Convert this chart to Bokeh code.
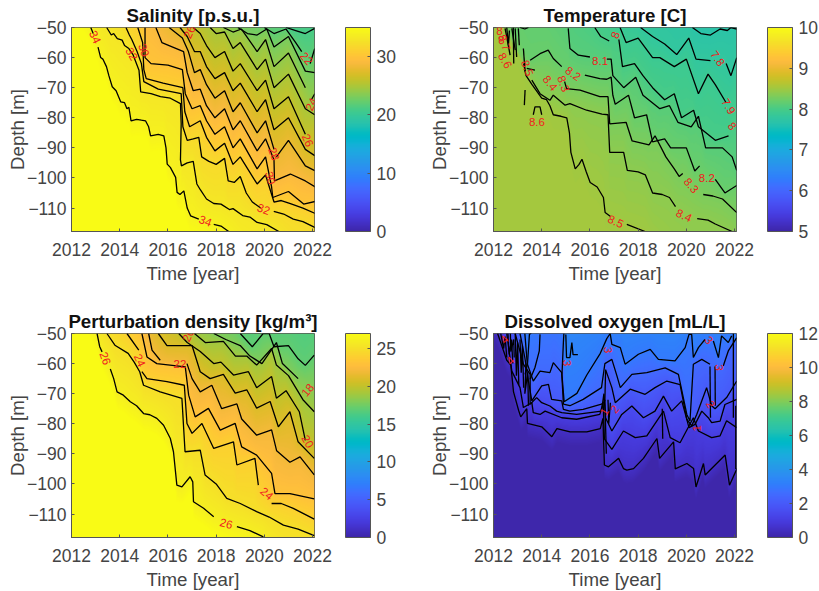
import numpy as np
from bokeh.core.properties import value
from bokeh.embed import file_html
from bokeh.layouts import column, row
from bokeh.models import ColorBar, FixedTicker, LinearColorMapper, Range1d
from bokeh.plotting import figure
from bokeh.resources import INLINE

N = float("nan")
G = (N, N)

X_TICKS = [2012, 2014, 2016, 2018, 2020, 2022]
Y_TICKS = [-110, -100, -90, -80, -70, -60, -50]

PARULA = """0.2422 0.1504 0.6603
0.2504 0.1650 0.7076
0.2578 0.1818 0.7511
0.2647 0.1978 0.7952
0.2706 0.2147 0.8364
0.2751 0.2342 0.8710
0.2783 0.2559 0.8991
0.2803 0.2782 0.9221
0.2813 0.3006 0.9414
0.2810 0.3228 0.9579
0.2795 0.3447 0.9717
0.2760 0.3667 0.9829
0.2699 0.3892 0.9906
0.2602 0.4123 0.9952
0.2440 0.4358 0.9988
0.2206 0.4603 0.9973
0.1963 0.4847 0.9892
0.1834 0.5074 0.9798
0.1786 0.5289 0.9682
0.1764 0.5499 0.9520
0.1687 0.5703 0.9359
0.1540 0.5902 0.9218
0.1460 0.6091 0.9079
0.1380 0.6276 0.8973
0.1248 0.6459 0.8883
0.1113 0.6635 0.8763
0.0952 0.6798 0.8598
0.0689 0.6948 0.8394
0.0297 0.7082 0.8163
0.0036 0.7203 0.7917
0.0067 0.7312 0.7660
0.0433 0.7411 0.7394
0.0964 0.7500 0.7120
0.1408 0.7584 0.6842
0.1717 0.7670 0.6554
0.1938 0.7758 0.6251
0.2161 0.7843 0.5923
0.2470 0.7918 0.5567
0.2906 0.7973 0.5188
0.3406 0.8008 0.4789
0.3909 0.8029 0.4354
0.4456 0.8024 0.3909
0.5044 0.7993 0.3480
0.5616 0.7942 0.3045
0.6174 0.7876 0.2612
0.6720 0.7793 0.2227
0.7242 0.7698 0.1910
0.7738 0.7598 0.1646
0.8203 0.7498 0.1535
0.8634 0.7406 0.1596
0.9035 0.7330 0.1774
0.9393 0.7288 0.2100
0.9728 0.7298 0.2394
0.9956 0.7434 0.2371
0.9970 0.7659 0.2199
0.9952 0.7893 0.2028
0.9892 0.8136 0.1885
0.9786 0.8386 0.1766
0.9676 0.8639 0.1643
0.9610 0.8890 0.1537
0.9597 0.9135 0.1423
0.9628 0.9373 0.1265
0.9691 0.9606 0.1064
0.9769 0.9839 0.0805"""

# ---------- Salinity contours (year, depth), deepest level first
sal_34 = [(2012.8,-50),(2012.9,-52),G,(2013.1,-56.5),(2013.21,-60),(2013.3,-60.5),(2013.45,-63),(2013.55,-66),(2013.69,-69.7),(2013.85,-71),(2014.04,-74.7),(2014.2,-75),(2014.3,-77),(2014.38,-76.5),(2014.47,-81),(2014.7,-80.5),(2014.9,-80.8),(2015.07,-81),(2015.2,-83),(2015.28,-86),(2015.6,-85.5),(2015.83,-86),(2015.92,-90),(2015.97,-95.4),(2016.1,-96.5),(2016.32,-99.8),(2016.38,-104.8),(2016.5,-105.5),(2016.66,-104.3),(2016.8,-110),(2016.94,-112.6),(2017.28,-113.7),G,(2017.9,-115.4),(2018.2,-116),(2018.52,-117.8)]
sal_33 = [(2013.46,-50),(2013.65,-52.5),(2013.75,-52),(2013.9,-53.7),(2014.1,-54.2),(2014.2,-56),(2014.38,-57),(2014.55,-59),(2014.8,-64.2),(2014.87,-71.4),(2015.3,-72),(2015.69,-73),(2016.1,-73.5),(2016.52,-75.3),(2016.55,-82),(2016.52,-94),(2016.56,-96),(2016.8,-95),(2017.05,-94.5),(2017.2,-102),(2017.35,-104),(2017.6,-107),(2017.9,-108.5),(2018.2,-108.7),(2018.55,-110.5),(2018.7,-110.2),(2019.1,-112.5),(2019.4,-113),(2019.7,-114.8),(2020.1,-115.5),(2020.6,-117.8)]
sal_32 = [(2014.26,-50),(2014.4,-52.5),(2014.5,-54),(2014.72,-58),(2014.9,-62),(2015.0,-68),(2015.6,-70.5),(2016.55,-72),(2016.62,-83),(2016.8,-87.5),(2017.05,-87),(2017.28,-86.5),(2017.4,-93),(2017.7,-94.5),(2018.0,-95.5),(2018.35,-93.5),(2018.5,-101),(2018.75,-101.5),(2019.0,-99.5),(2019.25,-105),(2019.5,-108),(2019.85,-110),G,(2020.39,-111.1),(2020.8,-112),(2021.2,-113.7),(2021.6,-114.5),(2022.11,-116.5)]
sal_31 = [(2014.75,-50),(2014.95,-55),(2015.0,-64),(2015.1,-67),(2015.8,-68.5),(2016.62,-70),(2016.7,-78),(2016.9,-83),(2017.34,-81),(2017.6,-86.5),(2017.95,-91),(2018.35,-88.5),(2018.7,-95.5),(2019.0,-93),(2019.7,-102),(2020.05,-99),(2020.4,-108),(2020.7,-107.5),(2021.08,-108.5),(2021.6,-110),(2022.11,-111.8)]
sal_30 = [(2015.05,-50),(2015.05,-60),(2015.3,-62),(2016.0,-62.5),(2016.6,-64),(2016.72,-72),(2017.0,-77),(2017.34,-76),(2017.6,-81),(2017.95,-85.5),(2018.35,-83),(2018.7,-90),(2019.0,-87),(2019.7,-97),(2020.05,-93),(2020.3,-103),(2020.35,-106.5),(2021.0,-104.5),(2021.63,-108.7),(2022.11,-107.8)]
sal_29 = [(2015.5,-50),(2015.75,-55),(2016.2,-56.5),(2016.65,-58),(2016.8,-65),(2017.05,-71),(2017.34,-70.5),(2017.6,-76),(2017.95,-80),(2018.35,-77),(2018.7,-84),(2019.0,-81),(2019.7,-91),(2020.05,-87),(2020.4,-94),(2020.42,-101),(2021.08,-98.7),(2021.7,-101),(2022.11,-103)]
sal_28 = [(2016.05,-50),(2016.6,-53.5),(2016.85,-58),(2017.1,-65),(2017.34,-64),(2017.6,-69),(2017.95,-73.5),(2018.35,-71),(2018.7,-78),(2019.0,-75),(2019.7,-85),(2020.05,-81),(2020.4,-90.5),G,(2020.5,-93),(2021.0,-87.5),(2021.7,-96),(2022.09,-97.6)]
sal_27 = [(2016.5,-50),(2016.8,-53),(2017.1,-58),(2017.34,-58),(2017.6,-63),(2017.95,-67),(2018.35,-65),(2018.7,-71),(2019.0,-68.5),(2019.7,-78),(2020.05,-74),(2020.4,-84),(2021.0,-80),(2021.7,-90.5),(2022.09,-92.6)]
sal_26 = [(2017.05,-50),(2017.34,-52),(2017.6,-56),(2017.95,-60),(2018.35,-58),(2018.7,-64.5),(2019.0,-62),(2019.7,-71),(2020.05,-67.5),(2020.4,-77),(2021.0,-73),(2021.7,-85.5),G,(2022.09,-84)]
sal_25 = [(2017.75,-50),(2018.0,-52),(2018.35,-51.5),(2018.7,-57),(2019.0,-55),(2019.7,-64),(2020.05,-60.5),(2020.4,-70),(2021.0,-65.5),(2021.7,-77),(2022.09,-79)]
sal_24 = [(2018.3,-50),(2018.7,-51.5),(2019.05,-50.5),(2019.7,-58),(2020.05,-54),(2020.4,-63),(2021.0,-58.5),(2021.7,-70),G,(2021.95,-74),(2022.09,-72)]
sal_23 = [(2018.9,-50),(2019.3,-52),(2019.7,-52.5),(2020.1,-50.5),(2020.4,-56.5),(2021.0,-53),(2021.7,-64.5),(2022.09,-65)]
sal_22 = [(2020.0,-50),(2020.4,-52),(2020.9,-50.5),(2021.3,-55),(2021.55,-58),G,(2021.9,-62),(2022.09,-57)]
sal_21 = [(2020.9,-50),(2021.3,-51),(2021.7,-52),(2022.09,-50.3)]
sal_levels = [34, 33, 32, 31, 30, 29, 28, 27, 26, 25, 24, 23, 22, 21]
sal_lines = [sal_34, sal_33, sal_32, sal_31, sal_30, sal_29, sal_28, sal_27, sal_26, sal_25, sal_24, sal_23, sal_22, sal_21]
sal_label_text = ["34", "34", "32", "30", "26", "22", "24", "26", "28", "30", "32"]
sal_label_t = [2012.98, 2017.55, 2014.5, 2015.0, 2016.9, 2021.75, 2021.95, 2021.8, 2020.4, 2020.25, 2019.97]
sal_label_d = [-53.2, -114.3, -58.8, -57.5, -51.5, -60.3, -75.5, -87.5, -92, -100, -110.4]
sal_label_a = [-65, -20, -60, -70, 65, -50, 65, -65, -70, -75, -20]

# ---------- Temperature
tem_85 = [(2013.25,-62),(2013.35,-66),(2013.6,-69),(2014.0,-73.5),(2014.2,-74),(2014.34,-76),(2014.48,-79),(2014.8,-79.5),(2015.04,-80),(2015.15,-85),(2015.21,-91.5),(2015.39,-97),(2015.55,-95.5),(2015.67,-93.8),(2015.85,-98),(2016.01,-101.5),(2016.3,-103),(2016.56,-106.5),(2016.63,-111.5),(2016.84,-112.7),G,(2017.53,-115.4),(2018.29,-117.8)]
tem_84 = [(2013.59,-67.5),(2013.93,-72),(2014.34,-74.2),(2014.48,-72.5),(2014.97,-75.8),(2015.17,-75.3),(2015.86,-77.5),(2016.5,-78.8),(2016.75,-79),(2016.82,-91.5),(2017.4,-91.5),(2017.55,-97.5),(2018.0,-98),(2018.3,-99),(2018.6,-105),(2019.0,-105.5),(2019.3,-106.5),(2019.55,-109.5),G,(2020.45,-113.5),(2020.9,-114),(2021.2,-115.3),(2021.9,-117.8)]
tem_83 = [(2013.38,-63.6),(2013.72,-64.2),G,(2014.95,-68),(2015.03,-70.3),(2015.59,-70.8),(2016.41,-73),(2016.75,-73),(2016.82,-82),(2017.5,-81.5),(2017.75,-87.7),(2018.45,-89),(2018.7,-86),(2019.15,-93),(2019.5,-97),(2019.7,-99.5),(2019.85,-98.5),G,(2020.7,-105.5),(2021.1,-106),(2021.5,-107),(2022.09,-111.5)]
tem_82 = [(2013.52,-60.9),(2013.93,-58.7),(2014.27,-57.5),(2014.48,-60.3),(2014.83,-63),G,(2015.79,-65.8),(2016.41,-67),(2016.7,-67.2),(2016.88,-66.5),(2016.95,-72.5),(2017.05,-75.5),(2017.6,-72.5),(2017.85,-80),(2018.35,-79),(2018.6,-88),(2019.1,-87),(2019.35,-90),(2020.0,-90),(2020.35,-97.7),(2020.55,-96),G,(2021.2,-100.5),(2021.6,-105),(2022.09,-102.5)]
tem_81 = [(2015.1,-50.3),(2015.17,-57),(2015.52,-59.2),(2016.0,-59.8),G,(2016.7,-60.5),(2016.88,-60.5),(2016.95,-66),(2017.4,-70),(2017.9,-66.5),(2018.2,-72.5),(2018.9,-77),(2019.3,-76),(2019.65,-81.5),(2020.2,-83),(2020.5,-79.5),(2020.8,-90),(2021.5,-90),(2021.9,-93),(2022.09,-97.5)]
tem_80 = [(2016.2,-50),(2016.45,-53),(2016.8,-54.5),G,(2017.2,-54),(2017.35,-63),(2017.85,-62),(2018.2,-66),(2018.6,-70),(2019.1,-74),(2019.5,-72),(2019.8,-80),(2020.3,-77.5),(2020.5,-83),(2021.2,-87.5),(2021.75,-86),G,(2022.09,-81)]
tem_79 = [(2017.25,-50),(2017.5,-55),(2018.0,-53.5),(2018.6,-60),(2018.9,-60),(2019.5,-63),(2020.0,-60.5),(2020.5,-72),(2020.9,-65.5),(2021.2,-69),(2021.65,-75),G,(2022.09,-71)]
tem_78 = [(2018.1,-50),(2018.6,-53),(2019.1,-55.5),(2019.6,-59),(2020.1,-53.5),(2020.4,-60.5),(2021.0,-61),G,(2021.65,-62),(2021.85,-66),(2022.09,-60)]
tem_77 = [(2020.25,-50),(2020.6,-52),(2021.0,-52.5),(2021.4,-50.5),(2021.7,-51),(2021.85,-50),(2022.09,-50.5)]
tem_levels = [8.5, 8.4, 8.3, 8.2, 8.1, 8.0, 7.9, 7.8, 7.7]
tem_lines = [tem_85, tem_84, tem_83, tem_82, tem_81, tem_80, tem_79, tem_78, tem_77]
tem_extra = [
    [(2012.48,-50.3),(2012.69,-59.2)], [(2012.76,-50.3),(2012.9,-57.5)], [(2012.9,-50.3),(2012.96,-59.8)],
    [(2013.03,-50.3),(2013.07,-55.9)], [(2013.24,-57),(2013.31,-64.7)], [(2013.31,-70.8),(2013.28,-75.8)],
    [(2013.65,-79),(2013.72,-76.4),(2013.93,-76.4),(2014.0,-79)], [(2012.55,-50),(2012.62,-56),(2012.66,-51)],
    [(2012.82,-50),(2012.84,-62)], [(2013.1,-50),(2013.3,-50.5),(2013.45,-50)],
]
tem_label_text = ["8.5", "8.4", "8.3", "8.2", "7.8", "7.9", "8", "8.1", "8", "8.2", "8.3", "8.4", "8.5", "8.6", "8.6", "8.7", "8", "8"]
tem_label_t = [2017.07, 2019.9, 2020.2, 2020.85, 2021.3, 2021.75, 2021.9, 2016.42, 2017.05, 2015.3, 2014.9, 2014.35, 2013.4, 2013.8, 2012.48, 2012.45, 2012.25, 2012.33]
tem_label_d = [-114.5, -112.5, -102.5, -100, -60.3, -76.2, -82.8, -61, -52.5, -65.3, -68.7, -68.5, -63.5, -81.5, -61, -55, -51, -54]
tem_label_a = [-25, -25, -50, 0, -55, -60, -50, 0, 70, -35, -70, -50, -70, 0, -60, -70, 0, 0]

# ---------- Perturbation density
den_26 = [(2013.06,-50),(2013.17,-54.4),(2013.27,-56.1),G,(2013.61,-61.8),(2013.75,-65),(2013.89,-69.4),(2014.15,-70.5),(2014.44,-72.7),(2014.7,-74),(2014.99,-76.6),(2015.25,-77),(2015.54,-78.2),(2015.82,-80.5),(2016.1,-84.9),(2016.23,-89.3),(2016.37,-100.4),(2016.58,-101),(2016.92,-97.6),(2017.03,-99.3),(2017.06,-105.9),(2017.48,-108.1),(2017.9,-110.9),G,(2018.86,-114.2),(2019.4,-115.5),(2019.96,-117.6)]
den_25 = [(2013.47,-50),(2013.8,-53.9),(2014.35,-56.6),(2014.6,-59.5),(2014.83,-62.7),(2014.99,-67.2),(2015.68,-69.4),(2016.58,-71.6),(2016.71,-89.3),(2017.34,-88.8),(2017.54,-97),(2018.0,-100),(2018.44,-104.8),(2019.0,-106.5),(2019.68,-109.2),(2020.2,-111),(2020.79,-113.7),(2021.4,-115),(2022.07,-117.2)]
den_24 = [(2014.3,-50),(2014.79,-55.5),G,(2014.92,-62.7),(2015.13,-65),(2015.96,-66),(2016.68,-67.2),(2016.79,-79.9),(2017.0,-83.2),(2017.41,-79.9),(2017.9,-88.2),(2018.72,-86),(2018.86,-93.7),(2019.61,-91.5),(2019.75,-100.4),G,(2020.3,-106.5),(2020.7,-106.5),(2021.2,-108.1),(2022.07,-111.7)]
den_23 = [(2014.92,-50),(2015.13,-57.8),(2015.54,-60),(2016.72,-61.1),(2016.86,-70.5),(2017.13,-77.7),(2017.68,-74.9),(2018.17,-82.1),(2018.79,-79.9),(2019.06,-87.7),(2019.68,-90.4),(2020.3,-96.5),(2020.44,-103.2),(2021.06,-103.2),(2022.07,-105)]
den_22 = [(2015.2,-50),(2015.34,-55.5),(2015.68,-58.9),G,(2016.79,-60),(2017.0,-65),(2017.34,-69.4),(2017.82,-67.2),(2018.23,-75),(2018.86,-73.4),(2019.06,-78.4),(2019.68,-83.8),(2020.3,-82),(2020.51,-89),(2021.06,-92.8),(2021.48,-91),(2022.07,-97)]
den_21 = [(2015.6,-50),(2015.96,-54),(2016.6,-54),(2017.0,-54),(2017.34,-62.7),(2017.75,-65),(2018.3,-63.6),(2018.79,-69.8),(2019.27,-68.7),(2019.68,-74.8),(2020.24,-72.6),(2020.58,-81),(2021.06,-76),(2021.4,-86),(2022.07,-91.5)]
den_20 = [(2016.45,-50),(2016.8,-53),(2017.34,-56),(2017.9,-60),(2018.2,-59.5),(2018.72,-63.8),(2019.34,-62.7),(2019.68,-68),(2020.3,-64.3),(2020.5,-71.5),(2020.9,-69),(2021.45,-76),(2021.7,-85.5),G,(2022.07,-86)]
den_19 = [(2017.1,-50),(2017.55,-53),(2018.3,-52.6),(2018.8,-57.5),(2019.27,-57.5),(2019.68,-60.5),(2020.3,-55),(2020.5,-60.5),(2021.0,-64),(2021.6,-72),(2022.07,-76)]
den_18 = [(2017.9,-50),(2018.4,-52),(2019.0,-54),(2019.4,-57.5),(2019.9,-60),(2020.5,-53),(2020.75,-60),(2021.4,-65),G,(2022.07,-67)]
den_17 = [(2019.0,-50),(2019.5,-54.4),(2019.95,-50),(2020.2,-50),(2020.4,-54.4),(2021.0,-54),(2021.4,-58.4),(2021.7,-60.6),(2022.07,-57.2)]
den_levels = [26, 25, 24, 23, 22, 21, 20, 19, 18, 17]
den_lines = [den_26, den_25, den_24, den_23, den_22, den_21, den_20, den_19, den_18, den_17]
den_label_text = ["26", "26", "24", "24", "22", "20", "18", "20"]
den_label_t = [2013.4, 2018.42, 2014.83, 2020.1, 2016.5, 2016.85, 2021.8, 2021.8]
den_label_d = [-58.3, -113.2, -58.9, -103.2, -60.3, -50.6, -68.8, -85.9]
den_label_a = [-70, -15, -65, -40, 0, 65, 50, -60]

# ---------- Dissolved oxygen
oxy_a = [(2012.17,-50),(2012.55,-58.9),(2012.72,-60.5),(2012.83,-69.4),(2013.04,-75.5),(2013.13,-77.7),(2013.38,-75),(2013.41,-79.9),(2014.0,-81),(2014.42,-84.3),(2014.63,-81.6),(2015.18,-82.7),(2015.87,-82.7),(2016.43,-81.6),(2016.54,-78.2),(2016.6,-93.7),(2016.77,-94.3),(2017.19,-91.5),(2017.39,-94.9),(2017.53,-95.4),(2017.81,-94.9),(2018.22,-91.5),(2018.78,-84.9),(2018.89,-91.5),(2019.47,-86),(2019.54,-95),(2020.02,-93.2),(2020.3,-94.9),(2020.4,-101),(2020.71,-93.2),(2020.78,-97),(2021.61,-90.4),(2021.79,-100.4),(2022.1,-94.9)]
oxy_b = [(2012.55,-50),(2012.76,-62.5),(2013.1,-68),(2013.24,-74.6),(2013.59,-73),(2013.65,-76.3),(2013.93,-76.9),(2014.14,-75.8),(2014.83,-78),(2015.45,-78.5),(2016.41,-76.9),(2016.55,-73),(2016.6,-85),(2016.91,-88.5),(2017.39,-82.4),(2017.88,-84.6),(2018.36,-84),(2019.05,-75.8),(2019.33,-84.6),(2019.74,-86.3),(2020.29,-78),(2020.5,-82.4),(2021.05,-84.6),(2021.4,-84),(2021.67,-79),(2022.09,-81.3)]
oxy_c = [(2012.9,-50),(2013.24,-60.2),(2013.52,-63.6),(2013.52,-73.5),(2013.79,-71.3),(2014.0,-73),(2014.34,-74.1),(2014.62,-75.8),(2014.83,-76.3),(2015.45,-76.9),(2016.48,-75.8),(2016.58,-70),(2016.65,-78),(2016.91,-82.4),(2017.32,-76.9),(2017.74,-74.1),(2018.22,-78),(2018.7,-75.8),(2019.05,-70.8),(2019.39,-75.8),(2019.81,-72.4),(2020.11,-81.3),(2020.36,-80.2),(2020.64,-75.8),(2020.91,-78),(2021.05,-79.6),(2021.4,-79.1),(2021.6,-73.6),(2022.09,-71.9)]
oxy_d = [(2013.1,-50),(2013.3,-58),(2013.45,-65.8),(2013.59,-72.4),(2014.0,-67.4),(2014.28,-66.9),(2014.41,-71.9),(2014.83,-72.4),(2014.9,-75.2),(2015.17,-75.8),(2015.72,-75.2),(2016.48,-73.5),(2016.62,-72.4),(2016.65,-62),(2016.91,-68),(2017.05,-73),(2017.67,-68.5),(2018.29,-70.2),(2018.7,-68),(2019.19,-65.8),(2019.74,-67),(2020.02,-78.5),(2020.22,-80.7),(2020.43,-76.9),(2020.84,-68),(2021.05,-74),(2021.19,-75),(2021.67,-71.3),(2022.09,-65.8)]
oxy_e = [(2013.3,-50),(2013.4,-60),(2013.65,-65.8),(2013.93,-62.5),(2014.34,-63),(2014.48,-59.7),(2014.83,-63),(2014.9,-73.5),(2015.17,-74),(2015.72,-71.9),(2016.48,-68),(2016.62,-60),(2016.91,-58.6),(2017.12,-64.1),(2017.26,-68),(2017.74,-63.6),(2018.36,-63),(2019.12,-61.4),(2019.67,-63.6),(2020.02,-76.9),(2020.15,-79.1),(2020.29,-60.2),(2020.64,-58.6),(2020.98,-60.2),G,(2021.53,-60.8),(2021.74,-55.8),(2022.09,-51.4)]
oxy_f = [(2014.92,-50),(2014.9,-52.8),(2014.84,-63.8),(2014.93,-72.7),(2015.46,-69.9),(2015.87,-63.8),(2016.43,-56.6),(2016.7,-51.7),(2016.84,-50),(2016.91,-53.6),(2017.26,-54.7),(2017.46,-60.2),(2018.01,-56.9),(2018.5,-55.3),(2018.84,-58.6),(2019.53,-59.1),(2019.95,-54.7),(2020.11,-50.3),(2020.22,-50.3),(2020.29,-58),(2020.5,-54.7),(2020.77,-52),G,(2021.12,-52.5),(2021.33,-58),(2021.46,-50.8),(2021.74,-53),(2021.88,-50.8)]
oxy_g = [(2013.31,-63.6),(2013.41,-60.2),(2013.49,-50.3),(2014.2,-45),(2022.1,-45)]
oxy_levels = [0.5, 1.0, 1.5, 2.0, 2.5, 3.0, 3.5]
oxy_lines = [oxy_a, oxy_b, oxy_c, oxy_d, oxy_e, oxy_f, oxy_g]
oxy_extra = [
    [(2013.93,-50.3),(2013.9,-55.8),(2013.72,-61.3),(2013.52,-65.2)],
    [(2015.0,-50.3),(2015.03,-58),(2015.17,-58),(2015.25,-53),(2015.3,-57),(2015.5,-57)],
    [(2020.98,-61),(2021.0,-78)], [(2021.19,-61),(2021.2,-74)],
    [(2012.3,-50),(2012.42,-55),(2012.48,-51),(2012.55,-58)], [(2012.6,-50),(2012.65,-57),(2012.75,-52),(2012.8,-60)],
    [(2012.9,-50),(2012.95,-64),(2013.0,-53),(2013.05,-67)], [(2013.1,-52),(2013.15,-63),(2013.2,-54),(2013.25,-68)],
    [(2012.7,-50),(2012.72,-56),(2012.84,-52),(2012.86,-58)], [(2013.35,-60),(2013.3,-70),(2013.42,-63),(2013.45,-74)],
    [(2016.62,-72),(2016.68,-90)], [(2016.75,-72),(2016.78,-80),(2016.85,-73)], [(2019.0,-75),(2019.02,-85)],
    [(2021.95,-50),(2021.95,-78)], [(2022.05,-74),(2022.05,-95)],
]
oxy_label_text = ["3", "3", "3", "3", "2", "1", "2", "1", "4", "4"]
oxy_label_t = [2015.05, 2016.75, 2020.93, 2021.35, 2017.03, 2016.6, 2021.0, 2020.45, 2012.45, 2012.7]
oxy_label_d = [-59.8, -55.5, -52.2, -61.3, -75.2, -76, -73.5, -81.5, -52, -59]
oxy_label_a = [-90, -90, -50, -90, 50, 60, -60, 90, 45, 45]

T0, T1 = 2012.0, 2022.08
D0, D1 = -117.8, -50.0


def rgb_hex(txt):
    out = []
    rows = [list(map(float, r.split())) for r in txt.strip().split("\n")]
    a = np.array(rows)
    x = np.linspace(0, 63, 256)
    for i in x:
        c = [np.interp(i, np.arange(64), a[:, k]) for k in range(3)]
        out.append("#%02x%02x%02x" % tuple(int(round(v * 255)) for v in c))
    return out


PALETTE = rgb_hex(PARULA)


def field(lines, levels, floor, ceil):
    ts = np.linspace(T0, T1, 243)
    ds = np.linspace(D0, D1, 204)
    img = np.zeros((len(ds), len(ts)))
    clean = []
    for ln in lines:
        a = np.array([q for q in ln if q[0] == q[0]], float)
        clean.append((np.maximum.accumulate(a[:, 0]), a[:, 1]))
    lev = np.array(levels, float)
    for j, t in enumerate(ts):
        col = []
        for tt, dd in clean:
            if t < tt[0]:
                col.append(dd[0] + (tt[0] - t) * 15)
            elif t > tt[-1]:
                col.append(dd[-1] - (t - tt[-1]) * 15)
            else:
                col.append(np.interp(t, tt, dd))
        col = np.sort(np.array(col))
        x = np.concatenate([[col[0] - floor[1]], col, [col[-1] + ceil[1]]])
        y = np.concatenate([[floor[0]], lev, [ceil[0]]])
        img[:, j] = np.interp(ds, x, y)
    return img


def panel(title, lines, levels, extra, ltext, lt, ld, la, low, high, ticks, floor, ceil, width, height, right_pad):
    mapper = LinearColorMapper(palette=PALETTE, low=low, high=high)
    p = figure(width=width, height=height, output_backend="svg", toolbar_location=None,
               x_range=Range1d(T0, T1), y_range=Range1d(D0, D1),
               min_border_left=71, min_border_top=27, min_border_right=right_pad,
               min_border_bottom=height - 231, frame_width=243, frame_height=204,
               x_axis_label="Time [year]", y_axis_label="Depth [m]", title=title)
    p.image(image=[field(lines, levels, floor, ceil)], x=T0, y=D0, dw=T1 - T0, dh=D1 - D0, color_mapper=mapper)
    for ln in list(lines) + list(extra):
        p.line([q[0] for q in ln], [q[1] for q in ln], line_color="#000000", line_width=1.3)
    p.text(lt, ld, text=ltext, angle=la, angle_units="deg", text_color="#f02020",
           text_font=value("Liberation Sans"), text_font_size="11.5px", text_align="center", text_baseline="middle")
    p.xgrid.visible = False
    p.ygrid.visible = False
    p.xaxis.ticker = FixedTicker(ticks=X_TICKS)
    p.yaxis.ticker = FixedTicker(ticks=Y_TICKS)
    for ax in (p.xaxis[0], p.yaxis[0]):
        ax.major_tick_in = 3
        ax.major_tick_out = 0
        ax.minor_tick_line_color = None
        ax.axis_line_color = "#555555"
        ax.major_tick_line_color = "#555555"
        ax.major_label_text_font = "Liberation Sans"
        ax.major_label_text_font_size = "17.5px"
        ax.major_label_text_color = "#444444"
        ax.axis_label_text_font = "Liberation Sans"
        ax.axis_label_text_font_size = "18.7px"
        ax.axis_label_text_font_style = "normal"
        ax.axis_label_text_color = "#444444"
    p.xaxis.axis_label_standoff = 4
    p.yaxis.axis_label_standoff = -4
    p.xaxis.major_label_standoff = 11
    p.yaxis.major_label_standoff = 5
    p.yaxis.major_label_orientation = "horizontal"
    p.outline_line_color = "#555555"
    p.title.align = "center"
    p.title.text_font = "Liberation Sans"
    p.title.text_font_size = "18.7px"
    p.title.text_font_style = "bold"
    p.title.text_color = "#111111"
    p.title.standoff = 3
    cb = ColorBar(color_mapper=mapper, ticker=FixedTicker(ticks=ticks), width=25, height=204,
                  location=(31, 0), padding=0, margin=0, major_tick_in=3, major_tick_out=0,
                  major_tick_line_color="#555555", minor_tick_line_color=None, bar_line_color="#555555",
                  major_label_text_font="Liberation Sans", major_label_text_font_size="17.5px",
                  major_label_text_color="#444444", label_standoff=6)
    p.add_layout(cb, "right")
    return p


p1 = panel("Salinity [p.s.u.]", sal_lines, sal_levels, [], sal_label_text, sal_label_t, sal_label_d, sal_label_a,
           0, 35, [0, 10, 20, 30], (35, 6), (20.5, 12), 422, 306, 108)
p2 = panel("Temperature [C]", tem_lines, tem_levels, tem_extra, tem_label_text, tem_label_t, tem_label_d, tem_label_a,
           5, 10, [5, 6, 7, 8, 9, 10], (8.52, 6), (7.6, 12), 388, 306, 74)
p3 = panel("Perturbation density [kg/m³]", den_lines, den_levels, [], den_label_text, den_label_t, den_label_d, den_label_a,
           0, 27, [0, 5, 10, 15, 20, 25], (27, 6), (16.5, 12), 422, 277, 108)
p4 = panel("Dissolved oxygen [mL/L]", oxy_lines, oxy_levels, oxy_extra, oxy_label_text, oxy_label_t, oxy_label_d, oxy_label_a,
           0, 12, [0, 2, 4, 6, 8, 10, 12], (0.05, 5), (5.0, 12), 388, 277, 74)

layout = column(row(p1, p2, spacing=0), row(p3, p4, spacing=0), spacing=0)
open("out.html", "w").write(file_html(layout, INLINE))
